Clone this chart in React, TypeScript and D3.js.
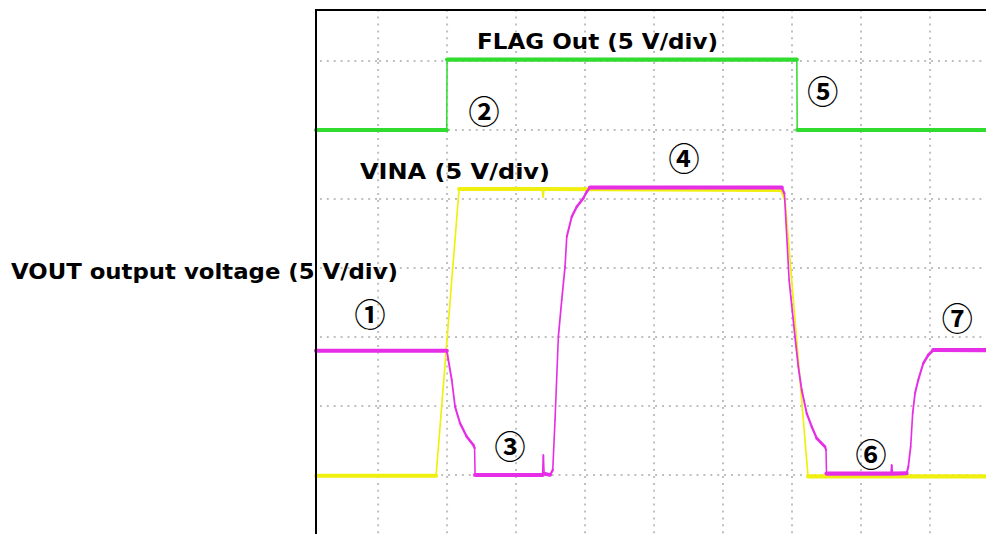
import React from "react";
import * as d3 from "d3";

// ---- data (in screen divisions; 5 V/div for every trace) ----
const flagT = [-0.9, 0.995, 1.0, 6.07, 6.075, 8.812];
const flagV = [5.0, 5.0, 6.02, 6.02, 5.0, 5.0];

const vinaT = [-0.9, 0.841, 1.174, 2.38, 2.391, 2.406, 5.841, 5.899, 6.232, 8.812];
const vinaV = [-0.01, -0.01, 4.145, 4.145, 4.03, 4.145, 4.13, 3.986, -0.02, -0.02];

const voutT = [
  -0.9, 0.996, 1.068, 1.116, 1.188, 1.286, 1.381, 1.399, 1.406, 2.384, 2.396, 2.406,
  2.493, 2.532, 2.565, 2.613, 2.662, 2.71, 2.735, 2.807, 2.88, 2.975, 3.025, 3.072,
  5.851, 5.89, 5.958, 6.043, 6.091, 6.141, 6.213, 6.286, 6.358, 6.478, 6.493, 6.5,
  7.435, 7.445, 7.455, 7.662, 7.686, 7.72, 7.749, 7.783, 7.83, 7.903, 7.975, 8.048, 8.812,
];
const voutV = [
  1.801, 1.801, 1.377, 0.99, 0.749, 0.555, 0.435, 0.391, 0.0, 0.0, 0.29, 0.02,
  0.0, 0.072, 0.8, 2.004, 2.536, 3.019, 3.454, 3.743, 3.888, 4.01, 4.106, 4.167,
  4.167, 4.08, 2.826, 2.004, 1.57, 1.232, 0.894, 0.7, 0.532, 0.41, 0.362, 0.02,
  0.02, 0.145, 0.02, 0.025, 0.12, 0.41, 0.894, 1.184, 1.377, 1.619, 1.739, 1.812, 1.81,
];

const gridX = [0, 1, 2, 3, 4, 5, 6, 7, 8];
const gridY = [0, 1, 2, 3, 4, 5, 6];

const traceLabels = ["FLAG Out (5 V/div)", "VINA (5 V/div)", "VOUT output voltage (5 V/div)"];
const markerText = ["①", "②", "③", "④", "⑤", "⑥", "⑦"];
const markerT = [-0.116, 1.536, 1.913, 4.435, 6.445, 7.145, 8.396];
const markerV = [2.348, 5.304, 0.442, 4.623, 5.58, 0.329, 2.294];

const W = 986;
const H = 534;
const PL = 316;
const PT = 10;

const x = d3.scaleLinear().domain([-0.9, 8.812]).range([PL, W]);
const y = d3.scaleLinear().domain([-0.855, 6.739]).range([H, PT]);

function Trace({ ts, vs, color }: { ts: number[]; vs: number[]; color: string }) {
  const segs = [];
  for (let i = 0; i < ts.length - 1; i++) {
    const x1 = x(ts[i]), y1 = y(vs[i]), x2 = x(ts[i + 1]), y2 = y(vs[i + 1]);
    const dx = Math.abs(x2 - x1), dy = Math.abs(y2 - y1);
    const slope = dx < 1e-6 ? 100 : dy / dx;
    const w = 1.5 + 2.6 / (1 + slope * 1.0);
    segs.push(
      <line key={i} x1={x1} y1={y1} x2={x2} y2={y2} stroke={color} strokeWidth={w} strokeLinecap="round" />
    );
  }
  return <g>{segs}</g>;
}

export default function App() {
  const font = "'DejaVu Sans', Verdana, sans-serif";
  return (
    <svg
      width={W}
      height={H}
      style={{ position: "absolute", left: 0, top: 0, background: "#fff" }}
      xmlns="http://www.w3.org/2000/svg"
    >
      <rect x={0} y={0} width={W} height={H} fill="#fff" />
      <g stroke="#c0c0c0" strokeWidth={2} strokeDasharray="2 4.9">
        {gridX.map((g) => (
          <line key={"gx" + g} x1={x(g)} x2={x(g)} y1={y(6)} y2={H} strokeDashoffset={-1} />
        ))}
        {gridX.map((g) => (
          <line key={"gxt" + g} x1={x(g)} x2={x(g)} y1={y(6)} y2={PT} strokeDashoffset={-1} />
        ))}
        {gridY.map((g) => (
          <line key={"gy" + g} x1={x(0)} x2={W} y1={y(g)} y2={y(g)} strokeDashoffset={-1} />
        ))}
        {gridY.map((g) => (
          <line key={"gyl" + g} x1={x(0)} x2={PL} y1={y(g)} y2={y(g)} strokeDashoffset={-1} />
        ))}
      </g>
      <Trace ts={flagT} vs={flagV} color="#2fdc2f" />
      <Trace ts={vinaT} vs={vinaV} color="#f0f010" />
      <Trace ts={voutT} vs={voutV} color="#e62ee6" />
      <line x1={PL} x2={PL} y1={PT - 1} y2={H} stroke="#000" strokeWidth={2} />
      <line x1={PL - 1} x2={W} y1={PT} y2={PT} stroke="#000" strokeWidth={2} />
      <g fontFamily={font} fontWeight="bold" fontSize={22} fill="#000">
        <text x={477} y={48.5} textLength={241} lengthAdjust="spacingAndGlyphs">{traceLabels[0]}</text>
        <text x={360} y={178.5} textLength={190} lengthAdjust="spacingAndGlyphs">{traceLabels[1]}</text>
        <text x={11} y={278.5} textLength={387} lengthAdjust="spacingAndGlyphs">{traceLabels[2]}</text>
      </g>
      <g fontFamily="'Noto Sans CJK JP', sans-serif" fontWeight="bold" fontSize={31} fill="#000" textAnchor="middle">
        {markerText.map((m, i) => (
          <text key={m} x={x(markerT[i])} y={y(markerV[i])} dominantBaseline="central">
            {m}
          </text>
        ))}
      </g>
    </svg>
  );
}
